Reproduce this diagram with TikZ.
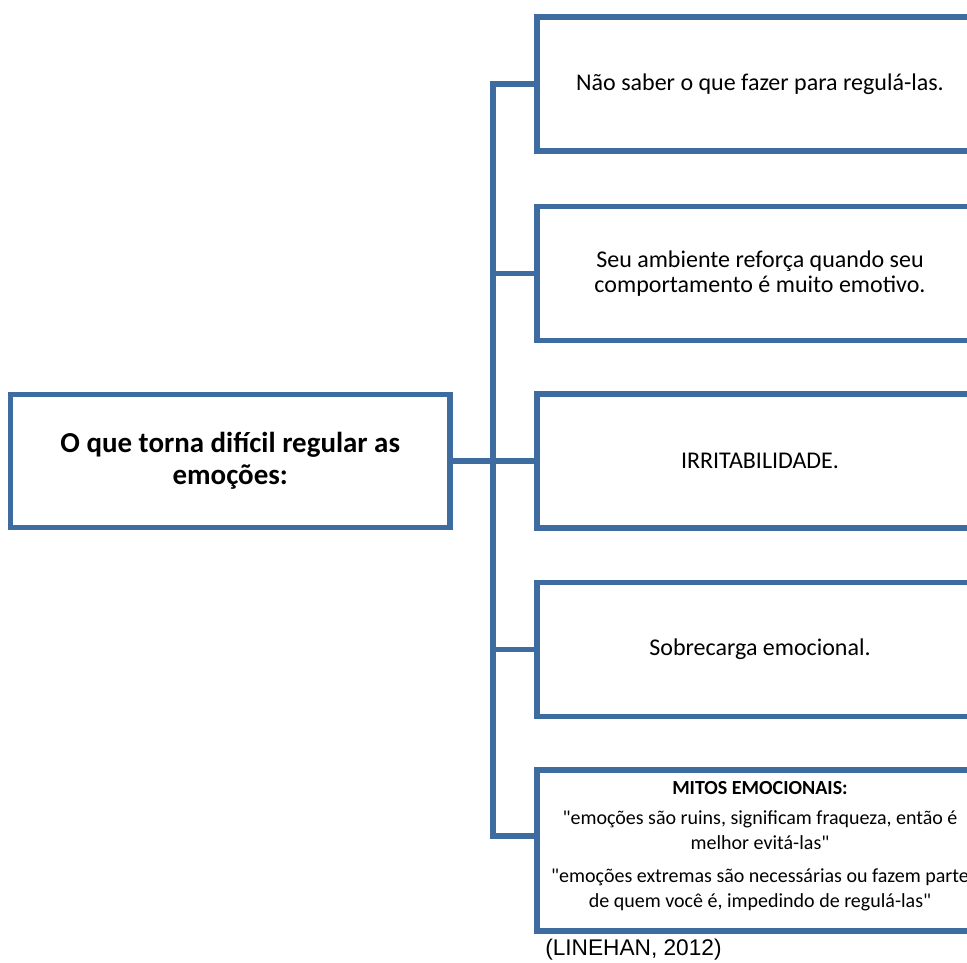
\documentclass[tikz,border=0pt]{standalone}
\usepackage{fontspec}
\setmainfont{Carlito}[Ligatures=TeXOff]
\newfontfamily\arialfont{Liberation Sans}
\usetikzlibrary{positioning}
\definecolor{boxblue}{RGB}{62,108,160}

\begin{document}
\begin{tikzpicture}[x=0.75pt,y=-0.75pt]
            \tikzstyle{every node}+=[inner sep=0pt]
            \tikzstyle{box}=[draw=boxblue, line width=4.2pt, fill=white, align=center]
            \tikzstyle{cause}=[box, minimum width=334.5pt, minimum height=100.5pt, font=\fontsize{18}{18.75}\selectfont]
            \tikzstyle{link}=[draw=boxblue, line width=4.2pt]
            \fill [white] (0,0) rectangle (967,963);
            \useasboundingbox (0,0) rectangle (967,963);
            \node [box, minimum width=329.6pt, minimum height=99.75pt, font=\bfseries\fontsize{21.7}{24}\selectfont] (root) at (230.25,461) {O que torna difícil regular as\\emoções:};
            \node [cause] (b1) at (760,84.25) {Não saber o que fazer para regulá-las.};
            \node [cause] (b2) at (760,273.5) {Seu ambiente reforça quando seu\\comportamento é muito emotivo.};
            \node [cause] (b3) at (760,461) {IRRITABILIDADE.};
            \node [cause] (b4) at (760,649.5) {Sobrecarga emocional.};
            \node [cause, minimum height=120.75pt, font=\fontsize{15}{18.75}\selectfont] (b5) at (760,850.5) {\textbf{MITOS EMOCIONAIS:}\\[4pt]"emoções são ruins, significam fraqueza, então é\\melhor evitá-las"\\[6pt]"emoções extremas são necessárias ou fazem parte\\de quem você é, impedindo de regulá-las"\\[-10pt]\mbox{}};
            \coordinate (spine) at (493,0);
            \coordinate (b5in) at ([yshift=10.9pt]b5.west);
            \draw [link] (b1.west) -| (spine |- b5in) -- (b5in);
            \draw [link] (root.east) -- (b3.west);
            \draw [link] (b2.west) -- (b2.west -| spine);
            \draw [link] (b4.west) -- (b4.west -| spine);
            \node [anchor=west, font=\arialfont\fontsize{17}{20}\selectfont] (src) at (545,950) {(LINEHAN, 2012)};
\end{tikzpicture}
\end{document}
